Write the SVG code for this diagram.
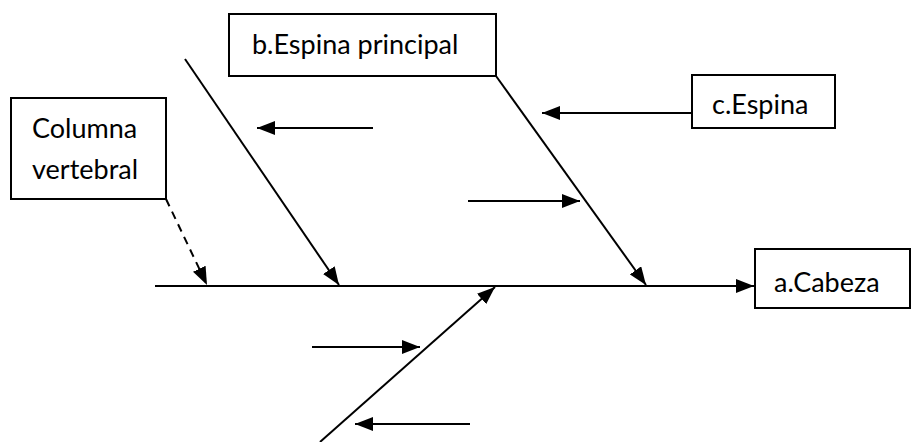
<svg xmlns="http://www.w3.org/2000/svg" width="913" height="442" viewBox="0 0 913 442">
<style>
.box{fill:#fff;stroke:#000;stroke-width:2}
.t{font-family:Lato,"Liberation Sans",sans-serif;font-size:27px;fill:#000}
.ln{stroke:#000;stroke-width:2;fill:none}
</style>
<defs>
<marker id="ah" viewBox="0 0 18 14" refX="18" refY="7" markerWidth="18" markerHeight="14" markerUnits="userSpaceOnUse" orient="auto">
<path d="M0,0 L18,7 L0,14 Z" fill="#000"/>
</marker>
</defs>
<rect width="913" height="442" fill="#fff"/>
<g id="connectors">
<line class="ln" x1="155" y1="286" x2="754" y2="286" marker-end="url(#ah)"/>
<line class="ln" x1="166" y1="199" x2="207" y2="285" stroke-dasharray="8,6" marker-end="url(#ah)"/>
<line class="ln" x1="185" y1="59" x2="339" y2="285" marker-end="url(#ah)"/>
<line class="ln" x1="496" y1="76" x2="646" y2="285" marker-end="url(#ah)"/>
<line class="ln" x1="320" y1="442" x2="495" y2="287" marker-end="url(#ah)"/>
<line class="ln" x1="692" y1="113" x2="542" y2="113" marker-end="url(#ah)"/>
<line class="ln" x1="373" y1="128" x2="257" y2="128" marker-end="url(#ah)"/>
<line class="ln" x1="468" y1="201" x2="580" y2="201" marker-end="url(#ah)"/>
<line class="ln" x1="312" y1="347" x2="420" y2="347" marker-end="url(#ah)"/>
<line class="ln" x1="470" y1="424" x2="355" y2="424" marker-end="url(#ah)"/>
</g>
<g id="columna">
<rect class="box" x="11" y="98" width="155" height="101"/>
<text class="t" x="32" y="138">Columna</text>
<text class="t" x="32" y="179">vertebral</text>
</g>
<g id="espina-principal">
<rect class="box" x="229" y="14" width="267" height="62"/>
<text class="t" x="252" y="54">b.Espina principal</text>
</g>
<g id="espina">
<rect class="box" x="692" y="75" width="143" height="53"/>
<text class="t" x="712" y="114">c.Espina</text>
</g>
<g id="cabeza">
<rect class="box" x="755" y="249" width="155" height="59"/>
<text class="t" x="774" y="292">a.Cabeza</text>
</g>
</svg>
